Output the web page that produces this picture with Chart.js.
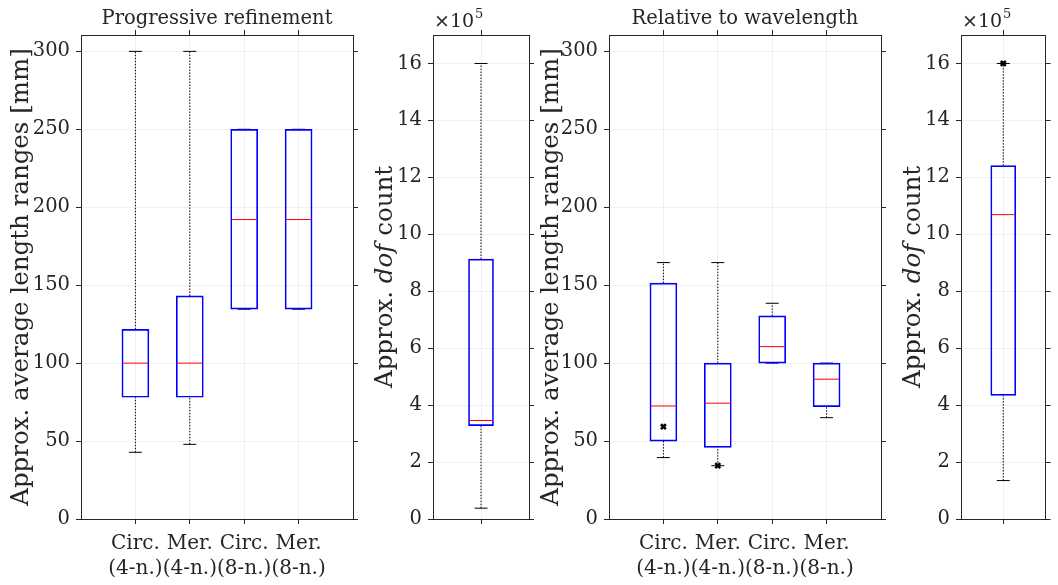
<!DOCTYPE html>
<html>
<head>
<meta charset="utf-8">
<script src="https://cdn.jsdelivr.net/npm/chart.js@4.4.1/dist/chart.umd.min.js"></script>
<style>
html, body { margin: 0; padding: 0; background: #fff; }
#wrap { position: relative; width: 1058px; height: 585px; }
#wrap canvas { position: absolute; left: 0; top: 0; }
</style>
</head>
<body>
<div id="wrap">
  <canvas id="c1" width="1058" height="585"></canvas>
  <canvas id="c2" width="1058" height="585"></canvas>
  <canvas id="c3" width="1058" height="585"></canvas>
  <canvas id="c4" width="1058" height="585"></canvas>
</div>
<script>
// categories and ticks
var categories = [['Circ.', '(4-n.)'], ['Mer.', '(4-n.)'], ['Circ.', '(8-n.)'], ['Mer.', '(8-n.)']];
var lenTicks = [0, 50, 100, 150, 200, 250, 300];
var dofExp = 5;
var dofTicks = [0, 2e5, 4e5, 6e5, 8e5, 10e5, 12e5, 14e5, 16e5];

// Progressive refinement - lengths [mm]
var progLow  = [42.8, 47.9, 134.6, 134.6];
var progQ1   = [78.1, 78.1, 134.6, 134.6];
var progMed  = [100, 100, 192.1, 192.1];
var progQ3   = [121.7, 143.1, 250, 250];
var progHigh = [300, 300, 250, 250];
var progOut  = [[], [], [], []];

// Progressive refinement - dof count
var progDofLow  = [0.38e5];
var progDofQ1   = [3.28e5];
var progDofMed  = [3.46e5];
var progDofQ3   = [9.13e5];
var progDofHigh = [16e5];
var progDofOut  = [[]];

// Relative to wavelength - lengths [mm]
var relLow  = [39.4, 34.2, 100, 65];
var relQ1   = [50, 46, 100, 72.1];
var relMed  = [72.5, 74.3, 110.6, 89.7];
var relQ3   = [151.3, 100, 130.3, 100];
var relHigh = [164.5, 164.5, 138.4, 100];
var relOut  = [[59.2], [34.2], [], []];

// Relative to wavelength - dof count
var relDofLow  = [1.35e5];
var relDofQ1   = [4.34e5];
var relDofMed  = [10.69e5];
var relDofQ3   = [12.41e5];
var relDofHigh = [16e5];
var relDofOut  = [[16e5]];

var W = 1058, H = 585;
var axC = '#262626';
var gridC = '#f0f0f0';
var serif = '"DejaVu Serif", "Liberation Serif", serif';

// titles, exponent and rich y labels
var extras = {
    id: 'extras',
    afterDraw: function (chart, args, o) {
        var ctx = chart.ctx, a = chart.chartArea;
        ctx.save();
        ctx.fillStyle = axC;
        ctx.textBaseline = 'alphabetic';
        if (o.title) {
            ctx.font = '19.5px ' + serif;
            ctx.textAlign = 'center';
            ctx.fillText(o.title, (a.left + a.right) / 2, 24);
        }
        if (o.exp) {
            ctx.font = '19px ' + serif;
            ctx.textAlign = 'left';
            ctx.fillText('\u00d710', a.left + 1, 27);
            var w = ctx.measureText('\u00d710').width;
            ctx.font = '13px ' + serif;
            ctx.fillText(String(dofExp), a.left + 2 + w, 18);
        }
        // y label built from parts, some italic
        ctx.translate(a.left - o.yGap, (a.top + a.bottom) / 2);
        ctx.rotate(-Math.PI / 2);
        ctx.textAlign = 'left';
        var total = 0;
        o.yParts.forEach(function (p) {
            ctx.font = (p.it ? 'italic ' : '') + '24.5px ' + serif;
            p.w = ctx.measureText(p.t).width;
            total += p.w;
        });
        var x = -total / 2;
        o.yParts.forEach(function (p) {
            ctx.font = (p.it ? 'italic ' : '') + '24.5px ' + serif;
            ctx.fillText(p.t, x, 0);
            x += p.w;
        });
        ctx.restore();
    }
};

function boxPanel(id, p) {
    var n = p.med.length;
    var boxes = [], meds = [], caps = [], outs = [], whisk = [];
    for (var i = 0; i < n; i++) {
        var x = i + 1;
        boxes.push({x: x, y: [p.q1[i], p.q3[i]]});
        meds.push({x: x, y: p.med[i]});
        caps.push({x: x, y: p.low[i]}, {x: x, y: p.high[i]});
        whisk.push({x: x, y: p.q3[i]}, {x: x, y: p.high[i]}, {x: x, y: null},
                   {x: x, y: p.low[i]}, {x: x, y: p.q1[i]}, {x: x, y: null});
        p.out[i].forEach(function (v) { outs.push({x: x, y: v}); });
    }
    var tickFont = {family: serif, size: 19.5, lineHeight: 1.25};
    var xFont = {family: serif, size: 20, lineHeight: 1.22};
    var xTicks = function (s) { s.ticks = p.med.map(function (m, i) { return {value: i + 1}; }); };
    var yTicks = function (s) { s.ticks = p.yTicks.map(function (v) { return {value: v}; }); };

    return new Chart(document.getElementById(id), {
        type: 'scatter',
        data: {
            datasets: [
                {type: 'line', data: whisk, borderColor: '#000', borderWidth: 1, borderDash: [1.5, 1.5],
                 pointRadius: 0, spanGaps: false, order: 5},
                {type: 'scatter', data: caps, pointStyle: 'line', pointRadius: 6.5,
                 borderColor: '#000', pointBorderWidth: 1, order: 4},
                {type: 'bar', data: boxes, barThickness: p.boxW, borderColor: '#0000ff',
                 backgroundColor: 'rgba(0,0,0,0)', borderWidth: 1, borderSkipped: false, order: 3},
                {type: 'scatter', data: meds, pointStyle: 'line', pointRadius: p.boxW / 2 - 1,
                 borderColor: '#ff0000', pointBorderWidth: 1, order: 2},
                {type: 'scatter', data: outs, pointStyle: 'crossRot', pointRadius: 3.5,
                 borderColor: '#000', pointBorderWidth: 2.5, order: 1}
            ]
        },
        options: {
            responsive: false,
            animation: false,
            events: [],
            layout: {padding: {left: p.l - 60, right: W - p.r - 6, top: 35 - 6, bottom: H - 519 - 62}},
            plugins: {
                legend: {display: false},
                tooltip: {enabled: false},
                extras: {title: p.title, exp: p.exp, yParts: p.yParts, yGap: p.yGap}
            },
            scales: {
                x: {type: 'linear', position: 'bottom', min: 0, max: n + 1, offset: false,
                    afterBuildTicks: xTicks, afterFit: function (s) { s.height = 62; },
                    ticks: {callback: function (v) { return p.labels ? p.labels[v - 1] : ''; },
                            autoSkip: false, maxRotation: 0, minRotation: 0, padding: 8,
                            font: xFont, color: axC},
                    grid: {color: gridC, tickColor: axC, tickLength: 5, offset: false},
                    border: {color: axC}},
                x2: {type: 'linear', position: 'top', min: 0, max: n + 1, offset: false,
                     afterBuildTicks: xTicks, afterFit: function (s) { s.height = 6; },
                     ticks: {display: false},
                     grid: {drawOnChartArea: false, tickColor: axC, tickLength: 5, offset: false},
                     border: {color: axC}},
                y: {type: 'linear', position: 'left', min: 0, max: p.yMax,
                    afterBuildTicks: yTicks, afterFit: function (s) { s.width = 60; },
                    ticks: {callback: p.fmt, padding: 6, font: tickFont, color: axC},
                    grid: {color: gridC, tickColor: axC, tickLength: 5},
                    border: {color: axC}},
                y2: {type: 'linear', position: 'right', min: 0, max: p.yMax,
                     afterBuildTicks: yTicks, afterFit: function (s) { s.width = 6; },
                     ticks: {display: false},
                     grid: {drawOnChartArea: false, tickColor: axC, tickLength: 5},
                     border: {color: axC}}
            }
        },
        plugins: [extras]
    });
}

var lenLabel = [{t: 'Approx. average length ranges [mm]'}];
var dofLabel = [{t: 'Approx. '}, {t: 'dof', it: true}, {t: ' count'}];
var lenFmt = function (v) { return String(v); };
var dofFmt = function (v) { return String(Math.round(v / Math.pow(10, dofExp))); };

boxPanel('c1', {l: 81, r: 353, title: 'Progressive refinement', labels: categories,
    low: progLow, q1: progQ1, med: progMed, q3: progQ3, high: progHigh, out: progOut,
    yTicks: lenTicks, yMax: 310.5, fmt: lenFmt, boxW: 27, yParts: lenLabel, yGap: 53});
boxPanel('c2', {l: 433, r: 529, exp: true,
    low: progDofLow, q1: progDofQ1, med: progDofMed, q3: progDofQ3, high: progDofHigh, out: progDofOut,
    yTicks: dofTicks, yMax: 17e5, fmt: dofFmt, boxW: 25, yParts: dofLabel, yGap: 41});
boxPanel('c3', {l: 609, r: 881, title: 'Relative to wavelength', labels: categories,
    low: relLow, q1: relQ1, med: relMed, q3: relQ3, high: relHigh, out: relOut,
    yTicks: lenTicks, yMax: 310.5, fmt: lenFmt, boxW: 27, yParts: lenLabel, yGap: 51});
boxPanel('c4', {l: 961, r: 1057, exp: true,
    low: relDofLow, q1: relDofQ1, med: relDofMed, q3: relDofQ3, high: relDofHigh, out: relDofOut,
    yTicks: dofTicks, yMax: 17e5, fmt: dofFmt, boxW: 25, yParts: dofLabel, yGap: 41});
</script>
</body>
</html>
